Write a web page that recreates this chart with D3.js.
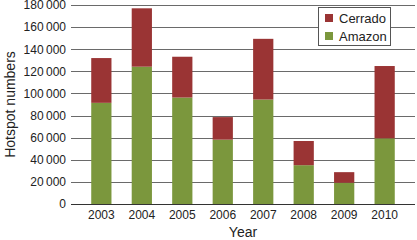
<!DOCTYPE html>
<html>
<head>
<meta charset="utf-8">
<script src="https://cdn.jsdelivr.net/npm/d3@7"></script>
<style>
  body { margin: 0; background: #fff; }
  text { font-family: "Liberation Sans", Arial, sans-serif; fill: #222; }
</style>
</head>
<body>
<div id="chart"></div>
<script>
var years = ["2003","2004","2005","2006","2007","2008","2009","2010"];
var amazon = [91500, 124200, 96300, 58200, 94500, 35100, 19200, 59400];
var cerrado = [40500, 52800, 36900, 20400, 54900, 21900, 9600, 65400];
var yTicks = [0, 20000, 40000, 60000, 80000, 100000, 120000, 140000, 160000, 180000];
var seriesNames = ["Cerrado", "Amazon"];
var colors = { Amazon: "#7b973d", Cerrado: "#9a3434" };

var W = 417, H = 240;
var margin = { left: 71, right: 2, top: 5, bottom: 36 };
var width = W - margin.left - margin.right;
var height = H - margin.top - margin.bottom;

var svg = d3.select("#chart")
    .append("svg")
    .attr("width", W)
    .attr("height", H)
    .append("g")
    .attr("transform", "translate(" + margin.left + "," + margin.top + ")");

var x = d3.scaleBand()
    .domain(years)
    .range([0, 344])
    .padding(0.5);

var y = d3.scaleLinear()
    .domain([0, 180000])
    .range([height, 0]);

var fmt = function(d) { return d3.format(",")(d).replace(/,/g, "\u2009"); };

// gridlines
svg.selectAll(".grid")
    .data(yTicks)
    .enter()
    .append("line")
    .attr("x1", 0)
    .attr("x2", width)
    .attr("y1", function(d) { return Math.round(y(d)) + 0.5; })
    .attr("y2", function(d) { return Math.round(y(d)) + 0.5; })
    .style("stroke", function(d) { return d == 0 ? "#333" : "#6a6a6a"; })
    .style("stroke-width", 1);

// y labels
svg.selectAll(".ylab")
    .data(yTicks)
    .enter()
    .append("text")
    .attr("x", -5)
    .attr("y", function(d) { return y(d); })
    .attr("dy", "0.36em")
    .attr("text-anchor", "end")
    .style("font-size", "12px")
    .text(fmt);

// stacked bars
var rows = years.map(function(yr, i) { return { year: yr, Amazon: amazon[i], Cerrado: cerrado[i] }; });
var stack = d3.stack().keys(["Amazon", "Cerrado"])(rows);

svg.selectAll(".layer")
    .data(stack)
    .enter()
    .append("g")
    .style("fill", function(d) { return colors[d.key]; })
    .selectAll("rect")
    .data(function(d) { return d; })
    .enter()
    .append("rect")
    .attr("x", function(d) { return x(d.data.year); })
    .attr("y", function(d) { return y(d[1]); })
    .attr("width", x.bandwidth())
    .attr("height", function(d) { return y(d[0]) - y(d[1]); });

// baseline on top of bars
svg.append("line")
    .attr("x1", 0).attr("x2", width)
    .attr("y1", height + 0.5).attr("y2", height + 0.5)
    .style("stroke", "#333");

// x labels
svg.selectAll(".xlab")
    .data(years)
    .enter()
    .append("text")
    .attr("x", function(d) { return x(d) + x.bandwidth() / 2; })
    .attr("y", height + 15)
    .attr("text-anchor", "middle")
    .style("font-size", "12px")
    .text(function(d) { return d; });

// axis titles
svg.append("text")
    .attr("x", 172)
    .attr("y", height + 33)
    .attr("text-anchor", "middle")
    .style("font-size", "14px")
    .text("Year");

svg.append("text")
    .attr("transform", "translate(" + (15 - margin.left) + "," + (height / 2) + ") rotate(-90)")
    .attr("text-anchor", "middle")
    .style("font-size", "14px")
    .text("Hotspot numbers");

// legend
var legend = svg.append("g")
    .attr("transform", "translate(" + (318 - margin.left) + "," + (7 - margin.top) + ")");
legend.append("rect")
    .attr("x", 0.5).attr("y", 0.5)
    .attr("width", 72).attr("height", 38)
    .style("fill", "#fff")
    .style("stroke", "#555");
seriesNames.forEach(function(name, i) {
    legend.append("rect")
        .attr("x", 7).attr("y", 7 + i * 18)
        .attr("width", 8).attr("height", 8)
        .style("fill", colors[name]);
    legend.append("text")
        .attr("x", 21).attr("y", 11 + i * 18)
        .attr("dy", "0.36em")
        .style("font-size", "13px")
        .text(name);
});
</script>
</body>
</html>
